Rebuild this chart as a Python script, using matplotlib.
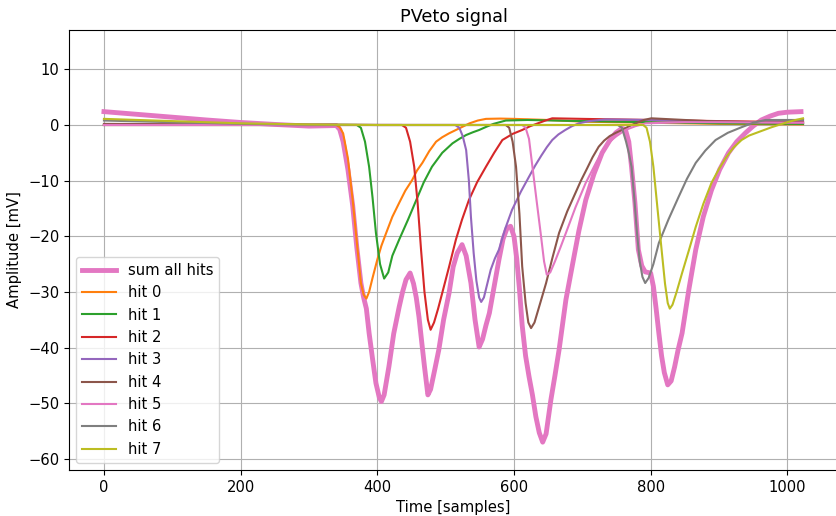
import matplotlib
matplotlib.use("Agg")
import matplotlib.pyplot as plt

plt.rcParams["font.size"] = 10.6

# (time [samples], amplitude [mV]) points
sum_points = [(0,2.4),(50,1.9),(100,1.4),(150,0.9),(200,0.45),(250,0.1),(300,-0.2),(340,-0.1),
    (345,-0.8),(350,-3),(357,-8),(364,-14.5),(370,-22),(376,-28.4),(380,-31),(384,-33),(388,-37.4),
    (393,-42),(398,-46.4),(403,-49),(406,-49.7),(410,-48.5),(417,-43.4),(424,-37.5),(432,-32.7),
    (437,-30),(442,-27.8),(448,-26.6),(453,-28.5),(457,-31),(461,-34.5),(465,-39),(469,-43.4),
    (474,-48.5),(478,-47.5),(484,-44),(490,-40.4),(497,-35),(505,-30.2),(511,-25.5),(517,-23),
    (524,-21.5),(530,-23.5),(537,-28.4),(543,-35),(549,-39.9),(554,-38.5),(559,-36),(564,-33.8),
    (571,-29),(578,-24.2),(584,-20.5),(590,-18.5),(595,-18.2),(600,-20),(604,-24),(608,-29.5),
    (612,-36),(617,-41.5),(622,-45.2),(627,-48.5),(632,-52.4),(637,-55.3),(642,-57),(647,-55.5),
    (654,-49.4),(660,-45),(666,-40.4),(676,-31.4),(685,-25.5),(695,-19),(705,-13.5),(717,-8.8),
    (729,-5),(740,-2.8),(749,-1.4),(758,-0.6),(763,-0.8),(768,-3),(772,-7.5),(777,-14),(782,-22.4),
    (787,-25.3),(792,-26.4),(796,-26.5),(800,-26.6),(804,-29),(808,-33),(812,-37.4),(816,-41.5),
    (820,-44.5),(825,-46.7),(830,-46),(835,-43.5),(840,-40.5),(846,-37.4),(856,-29.5),(866,-22.4),
    (877,-16.5),(889,-11.7),(901,-8),(914,-5),(926,-3),(939,-1.4),(950,-0.2),(962,0.9),(975,1.6),
    (987,2.1),(1000,2.3),(1020,2.4)]

hit0 = [(0,0),(100,0),(200,0),(300,0),(340,0),(345,-0.4),(350,-1.5),(357,-6),(364,-13.5),(370,-21),
    (376,-28.4),(380,-30.5),(384,-31.2),(388,-30),(393,-27.5),(400,-24.2),(406,-21.7),(413,-19.4),
    (422,-16.5),(432,-14),(441,-11.8),(451,-9.9),(458,-8.2),(466,-6.8),(476,-4.7),(486,-3),
    (495,-2.2),(505,-1.5),(515,-0.9),(525,-0.3),(535,0.3),(547,0.8),(559,1.1),(580,1.15),(600,1.1),
    (650,0.9),(700,0.6),(800,0.4),(900,0.2),(1023,0.1)]
hit1 = [(0,0),(200,0),(300,0),(370,0),(376,-0.5),(382,-3),(388,-7.5),(393,-13),(398,-19.4),
    (404,-25),(410,-27.6),(416,-26.5),(422,-23.5),(432,-20.6),(445,-17),(457,-13.5),(468,-10.3),
    (480,-7.5),(495,-5),(510,-3.3),(520,-2.5),(530,-1.8),(540,-1.3),(549,-0.9),(560,-0.3),
    (570,0.2),(588,0.8),(620,0.9),(700,0.7),(800,0.5),(900,0.3),(1023,0.2)]
hit2 = [(0,0),(200,0),(400,0),(436,0),(442,-0.5),(448,-3),(454,-7.5),(459,-14),(464,-22.4),
    (469,-30),(474,-35),(478,-36.8),(483,-35.5),(489,-33),(495,-30.2),(505,-25.5),(515,-20.6),
    (524,-17),(534,-13.5),(546,-10.3),(559,-7.5),(571,-5),(583,-2.7),(598,-1.6),(612,-0.9),
    (624,-0.2),(635,0.3),(646,0.8),(656,1.2),(700,1.1),(800,0.9),(900,0.7),(1023,0.5)]
hit3 = [(0,0),(200,0),(400,0),(514,0),(520,-0.5),(525,-2),(530,-4.5),(534,-10),(537,-16.5),
    (541,-23),(545,-28),(549,-31),(552,-31.8),(556,-31),(560,-29),(566,-26),(572,-24),(578,-22.4),
    (587,-18.7),(597,-15.3),(610,-12),(622,-9.3),(631,-7.3),(640,-5.5),(648,-4),(656,-2.7),
    (665,-1.7),(675,-0.9),(685,-0.2),(695,0.3),(710,0.7),(734,1.0),(800,0.9),(900,0.6),(1023,0.4)]
hit4 = [(0,0.2),(200,0.1),(400,0),(588,0),(593,-0.5),(598,-3),(603,-7.5),(608,-16),(612,-25.4),
    (617,-32),(621,-35.5),(625,-36.5),(630,-35.5),(636,-33),(642,-30.5),(647,-28.4),(656,-24),
    (666,-19.4),(678,-15.5),(690,-12.2),(698,-10),(707,-7.8),(715,-5.8),(724,-3.9),(732,-2.8),
    (740,-2.0),(749,-1.4),(758,-0.9),(769,-0.2),(780,0.4),(790,0.9),(801,1.2),(850,0.9),(900,0.6),
    (1023,0.4)]
hit5 = [(0,0),(200,0),(400,0),(612,0),(617,-0.5),(622,-2.5),(627,-7.5),(633,-13.5),(639,-19.4),
    (644,-24.5),(648,-26.9),(653,-26.5),(660,-24.5),(668,-22),(676,-19.4),(690,-14.8),(705,-10.4),
    (720,-6.8),(727,-5.2),(734,-3.9),(742,-2.8),(750,-2),(763,-0.9),(778,-0.2),(793,0.3),
    (850,0.5),(900,0.5),(1023,0.4)]
hit6 = [(0,0.8),(100,0.5),(200,0.2),(300,0.05),(400,0),(600,0),(752,0),(758,-0.5),(764,-3),
    (768,-5),(772,-7.5),(776,-13),(780,-19.4),(784,-24.5),(788,-27.3),(792,-28.4),(797,-27.5),
    (804,-25),(812,-21.2),(826,-17),(841,-12.9),(853,-9.7),(866,-6.8),(880,-4.6),(895,-2.7),
    (913,-1.4),(933,-0.4),(950,0.4),(968,0.9),(1023,0.9)]
hit7 = [(0,1.1),(100,0.7),(200,0.3),(300,0.1),(400,0),(600,0),(789,0),(794,-0.5),(799,-3),
    (804,-7.5),(810,-15),(816,-22.4),(821,-28.5),(825,-32),(828,-33),(832,-32.3),(838,-30),
    (846,-26.6),(856,-22.5),(866,-18.3),(877,-14.2),(889,-10.4),(900,-7.9),(910,-5.9),(921,-4.1),
    (933,-2.7),(944,-1.9),(955,-1.4),(966,-0.9),(977,-0.4),(1000,0.5),(1012,0.9),(1023,1.2)]

hits = [hit0, hit1, hit2, hit3, hit4, hit5, hit6, hit7]
hit_labels = ["hit 0", "hit 1", "hit 2", "hit 3", "hit 4", "hit 5", "hit 6", "hit 7"]
hit_colors = ["C1", "C2", "C3", "C4", "C5", "C6", "C7", "C8"]

fig = plt.figure(figsize=(8.37, 5.16), dpi=100)
ax = fig.add_axes([69/837, 46/516, 769/837, 440/516])

sx, sy = zip(*sum_points)
ax.plot(sx, sy, color="C6", lw=3.5, label="sum all hits")
for pts, lab, col in zip(hits, hit_labels, hit_colors):
    hx, hy = zip(*pts)
    ax.plot(hx, hy, color=col, lw=1.5, label=lab)

ax.set_xlim(-51.15, 1074.15)
ax.set_ylim(-62.0, 17.07)
ax.grid(True)
ax.set_xlabel("Time [samples]")
ax.set_ylabel("Amplitude [mV]")
ax.set_title("PVeto signal")
ax.legend(loc="lower left", handlelength=2.3)

fig.savefig("out.png", dpi=100)
